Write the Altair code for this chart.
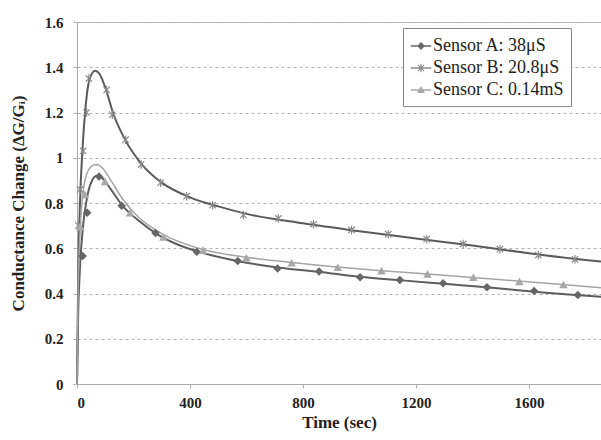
import altair as alt
import pandas as pd

series = ["Sensor A: 38μS", "Sensor B: 20.8μS", "Sensor C: 0.14mS"]

# fitted curves
line_t_A = [0, 4, 10, 20, 35, 50, 70, 90, 120, 160, 220, 280, 350, 430, 570, 710, 860, 1000, 1150, 1300, 1450, 1600, 1780, 1855]
line_v_A = [0, 0.3, 0.5, 0.68, 0.82, 0.89, 0.92, 0.91, 0.86, 0.79, 0.72, 0.665, 0.62, 0.585, 0.543, 0.515, 0.495, 0.474, 0.458, 0.443, 0.428, 0.41, 0.392, 0.386]
line_t_B = [0, 4, 10, 20, 30, 45, 64, 80, 100, 130, 170, 230, 300, 400, 500, 600, 800, 1000, 1200, 1400, 1600, 1800, 1855]
line_v_B = [0, 0.45, 0.78, 1.05, 1.22, 1.35, 1.385, 1.37, 1.31, 1.19, 1.08, 0.97, 0.89, 0.825, 0.785, 0.752, 0.71, 0.675, 0.643, 0.612, 0.578, 0.548, 0.541]
line_t_C = [0, 4, 10, 20, 35, 55, 70, 90, 120, 160, 220, 300, 430, 600, 760, 920, 1080, 1240, 1400, 1560, 1720, 1855]
line_v_C = [0, 0.4, 0.65, 0.83, 0.93, 0.965, 0.97, 0.955, 0.9, 0.82, 0.735, 0.665, 0.6, 0.56, 0.537, 0.517, 0.501, 0.486, 0.471, 0.455, 0.44, 0.425]

# measured points
pt_t_A = [20, 36, 78, 158, 278, 424, 569, 710, 857, 1002, 1143, 1296, 1451, 1618, 1773]
pt_v_A = [0.566, 0.757, 0.917, 0.788, 0.667, 0.584, 0.544, 0.511, 0.497, 0.472, 0.46, 0.445, 0.428, 0.411, 0.393]
pt_t_B = [5, 11, 22, 34, 42, 105, 125, 172, 227, 296, 388, 480, 589, 713, 837, 972, 1102, 1238, 1367, 1497, 1633, 1763]
pt_v_B = [0.70, 0.86, 1.03, 1.20, 1.35, 1.30, 1.19, 1.08, 0.97, 0.89, 0.83, 0.79, 0.747, 0.732, 0.706, 0.681, 0.662, 0.64, 0.619, 0.596, 0.57, 0.551]
pt_t_C = [11, 28, 99, 188, 306, 446, 600, 760, 923, 1078, 1241, 1403, 1566, 1722]
pt_v_C = [0.695, 0.836, 0.894, 0.755, 0.648, 0.59, 0.556, 0.534, 0.514, 0.499, 0.485, 0.47, 0.452, 0.438]

y_ticks = [0, 0.2, 0.4, 0.6, 0.8, 1.0, 1.2, 1.4, 1.6]
x_ticks = [0, 400, 800, 1200, 1600]

def frame(ts, vs, name):
    return pd.DataFrame({"t": ts, "v": vs, "s": name})

lines = pd.concat([frame(line_t_A, line_v_A, series[0]),
                   frame(line_t_B, line_v_B, series[1]),
                   frame(line_t_C, line_v_C, series[2])])
pts = pd.concat([frame(pt_t_A, pt_v_A, series[0]),
                 frame(pt_t_B, pt_v_B, series[1]),
                 frame(pt_t_C, pt_v_C, series[2])])

line_colors = ["#5e5e5e", "#5a5a5a", "#a4a4a4"]
line_widths = [2, 2, 1.5]
mark_colors = ["#666666", "#8a8a8a", "#a8a8a8"]
# all symbols are filled outlines (asterisk arms drawn as thin bars)
marker_paths = [
    "M0,-1L1,0L0,1L-1,0Z",
    "M-0.14,-1H0.14V1H-0.14Z"
    "M-0.65,-0.85L0.85,0.65L0.65,0.85L-0.85,-0.65Z"
    "M0.65,-0.85L0.85,-0.65L-0.65,0.85L-0.85,0.65Z",
    "M0,-1L1,0.8L-1,0.8Z",
]
bar = "M-1,-0.07H1V0.07H-1Z"
legend_paths = [
    bar + "M0,-0.38L0.38,0L0,0.38L-0.38,0Z",
    bar + "M-0.06,-0.42H0.06V0.42H-0.06Z"
          "M-0.26,-0.34L0.34,0.26L0.26,0.34L-0.34,-0.26Z"
          "M0.26,-0.34L0.34,-0.26L-0.26,0.34L-0.34,0.26Z",
    bar + "M0,-0.38L0.38,0.3L-0.38,0.3Z",
]

xs = alt.X("t:Q", scale=alt.Scale(domain=[0, 1855], nice=False),
           axis=alt.Axis(values=x_ticks, format="d", title="Time (sec)", grid=False,
                         labelPadding=7, titlePadding=4))
ys = alt.Y("v:Q", scale=alt.Scale(domain=[0, 1.6], nice=False),
           axis=alt.Axis(values=y_ticks, format=".1~f",
                         title="Conductance Change (ΔG/Gᵢ)", grid=True,
                         gridDash=[3, 3], gridColor="#b0b0b0",
                         labelPadding=10, titlePadding=17))

leg = alt.Legend(title=None, orient="none", legendX=326, legendY=6,
                 strokeColor="#888888", fillColor="white", padding=7,
                 labelFont="Liberation Serif", labelFontSize=18, labelColor="#222222",
                 symbolSize=420, rowPadding=2, labelOffset=1, cornerRadius=0)

line_layers = [
    alt.Chart(lines).transform_filter(alt.datum.s == name).mark_line(
        interpolate="monotone", strokeWidth=w, color=col
    ).encode(x=xs, y=ys)
    for name, col, w in zip(series, line_colors, line_widths)
]

marker_layers = [
    alt.Chart(pts).transform_filter(alt.datum.s == name).mark_point(
        filled=True, size=72, opacity=1, shape=path, fill=col
    ).encode(x=xs, y=ys)
    for name, path, col in zip(series, marker_paths, mark_colors)
]

legend_layer = alt.Chart(pts).mark_point(filled=True, size=0, opacity=1).encode(
    x=xs, y=ys,
    color=alt.Color("s:N", scale=alt.Scale(domain=series, range=mark_colors), legend=leg),
    shape=alt.Shape("s:N", scale=alt.Scale(domain=series, range=legend_paths), legend=leg),
)

chart = alt.layer(*line_layers, *marker_layers, legend_layer).properties(
    width=524, height=362,
    background="white",
    autosize=alt.AutoSizeParams(type="none"),
    padding={"left": 77, "top": 22, "right": 0, "bottom": 56},
).configure_view(
    stroke="#bbbbbb", strokeWidth=1
).configure_axis(
    labelFont="Liberation Serif", labelFontWeight="bold", labelFontSize=15,
    labelColor="#222222", titleFont="Liberation Serif", titleFontWeight="bold",
    titleFontSize=17, titleColor="#222222", domainColor="#aaaaaa",
    tickColor="#aaaaaa", tickSize=4
).configure_legend(
    labelFont="Liberation Serif", labelFontSize=18, labelColor="#222222"
)

chart.save("out.html", embed_options={"renderer": "svg", "actions": False})
